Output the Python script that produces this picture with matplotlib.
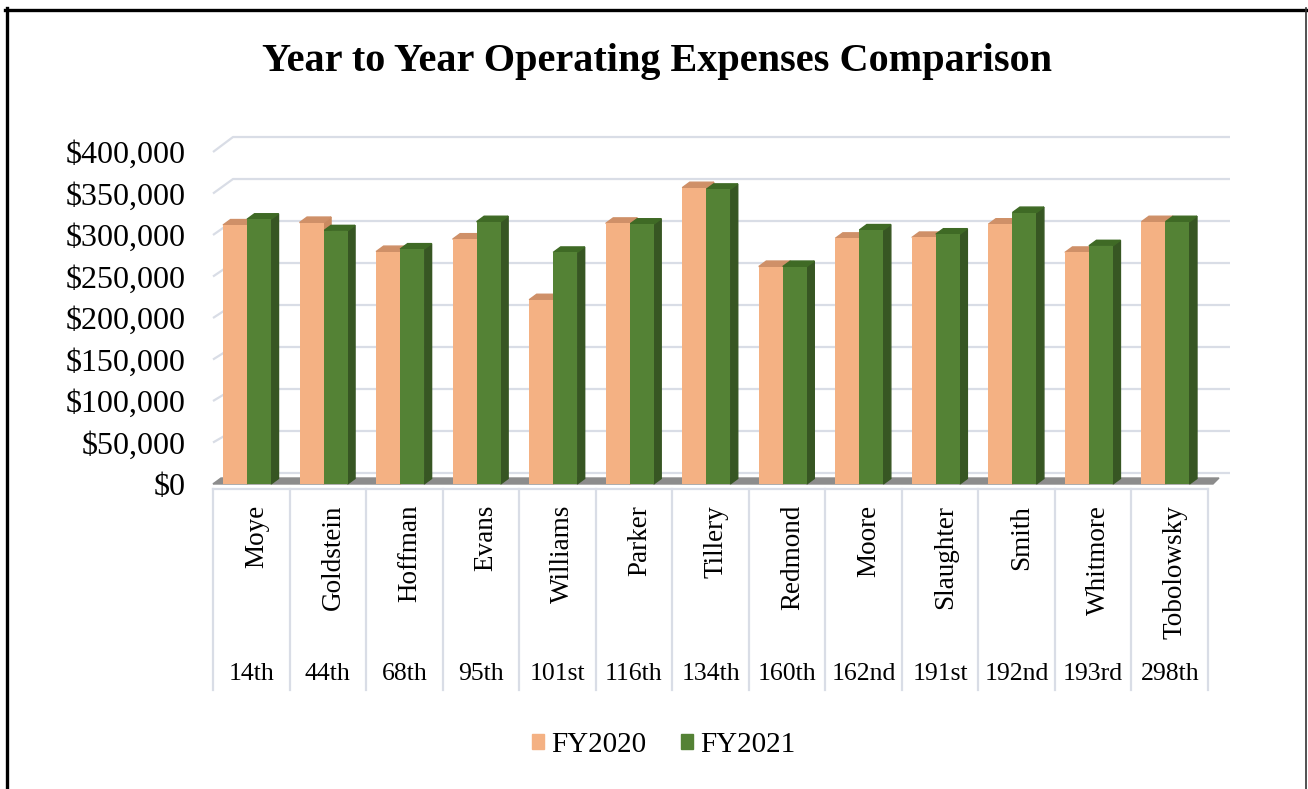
import matplotlib
matplotlib.use('Agg')
import matplotlib.pyplot as plt
from matplotlib.patches import Polygon, Patch
from matplotlib.lines import Line2D

plt.rcParams['font.family'] = ['Liberation Serif', 'DejaVu Serif']

# data
names = ['Moye', 'Goldstein', 'Hoffman', 'Evans', 'Williams', 'Parker', 'Tillery',
         'Redmond', 'Moore', 'Slaughter', 'Smith', 'Whitmore', 'Tobolowsky']
ranks = ['14th', '44th', '68th', '95th', '101st', '116th', '134th',
         '160th', '162nd', '191st', '192nd', '193rd', '298th']
fy2020 = [312000, 315000, 280000, 295000, 222000, 314000, 357000,
          262000, 296000, 297000, 313000, 279000, 316000]
fy2021 = [319000, 305000, 283000, 316000, 279000, 313000, 355000,
          262000, 306000, 301000, 327000, 287000, 316000]
series = ['FY2020', 'FY2021']
yticks = list(range(0, 400001, 50000))

W, H = 1308, 789
fig = plt.figure(figsize=(W / 100, H / 100), dpi=100)
ax = fig.add_axes([213 / W, (H - 484) / H, 995 / W, 332 / H])
n = len(names)
ax.set_xlim(0, n)
ax.set_ylim(0, 400000)
ax.patch.set_alpha(0)
for s in ax.spines.values():
    s.set_visible(False)

# pixel -> data helpers
ux = n / 995
uy = 400000 / 332

grid_c = '#d9dde6'
# back wall + side wall gridlines
for v in yticks:
    yb = v * 1.012 + 11 * uy
    ax.plot([0, 20 * ux, 1017 * ux], [v, yb, yb], color=grid_c, lw=1.6,
            clip_on=False, zorder=0, solid_capstyle='butt')

# floor strip
ax.add_patch(Polygon([(0, 0), (n + 5 * ux, 0), (n + 11 * ux, 6 * uy), (8 * ux, 6 * uy)],
                     closed=True, color='#8c8c8c', zorder=1, clip_on=False))

# bars with a bit of depth
bw = 24 * ux
ddx, ddy = 7.5 * ux, 5.5 * uy
styles = [('#f4b183', '#cf9068', '#c98a60', 0.131),
          ('#548235', '#3f6a25', '#375623', 0.131 + 24 * ux)]
for vals, (front, top, side, off) in zip([fy2020, fy2021], styles):
    for i, v in enumerate(vals):
        x0 = i + off
        ax.add_patch(Polygon([(x0 + bw, 0), (x0 + bw + ddx, ddy), (x0 + bw + ddx, v + ddy), (x0 + bw, v)],
                             closed=True, color=side, zorder=2, clip_on=False))
        ax.add_patch(Polygon([(x0, v), (x0 + bw, v), (x0 + bw + ddx, v + ddy), (x0 + ddx, v + ddy)],
                             closed=True, color=top, zorder=2, clip_on=False))
    ax.bar([i + off for i in range(n)], vals, width=bw, align='edge', color=front,
           zorder=3, clip_on=False)

ax.set_xticks([])
ax.set_yticks(yticks)
ax.set_yticklabels([f'${v:,}' for v in yticks])
ax.tick_params(axis='y', length=0, pad=20, labelsize=23)

# two-level category axis
tr = ax.get_xaxis_transform()
top_y = (484 - 489) / 332
bot_y = (484 - 690) / 332
ax.plot([0, n], [top_y, top_y], color=grid_c, lw=1.6, transform=tr, clip_on=False)
for i in range(n + 1):
    ax.plot([i, i], [top_y, bot_y], color=grid_c, lw=1.6, transform=tr, clip_on=False)
for i, (nm, rk) in enumerate(zip(names, ranks)):
    ax.text(i + 0.57, (484 - 505) / 332, nm, rotation=90, ha='center', va='top',
            fontsize=19.5, transform=tr)
    ax.text(i + 0.5, (484 - 674) / 332, rk, ha='center', va='center',
            fontsize=18.5, transform=tr)

fig.text(657 / W, (H - 62) / H, 'Year to Year Operating Expenses Comparison',
         ha='center', va='center', fontsize=29, fontweight='bold')

handles = [Patch(color='#f4b183'), Patch(color='#548235')]
fig.legend(handles, series, loc='center', bbox_to_anchor=(664 / W, (H - 745) / H),
           ncol=2, frameon=False, fontsize=21, handlelength=0.4, handleheight=0.4,
           handletextpad=0.25, columnspacing=1.2)

# chart border
fig.add_artist(Line2D([5 / W, 1307 / W], [(H - 9.5) / H] * 2, transform=fig.transFigure,
                      color='black', lw=2.4))
fig.add_artist(Line2D([6.5 / W] * 2, [0, (H - 8) / H], transform=fig.transFigure,
                      color='black', lw=2.4))
fig.add_artist(Line2D([1306 / W] * 2, [0, (H - 8) / H], transform=fig.transFigure,
                      color='#333333', lw=1.2))

fig.savefig('out.png', dpi=100)
